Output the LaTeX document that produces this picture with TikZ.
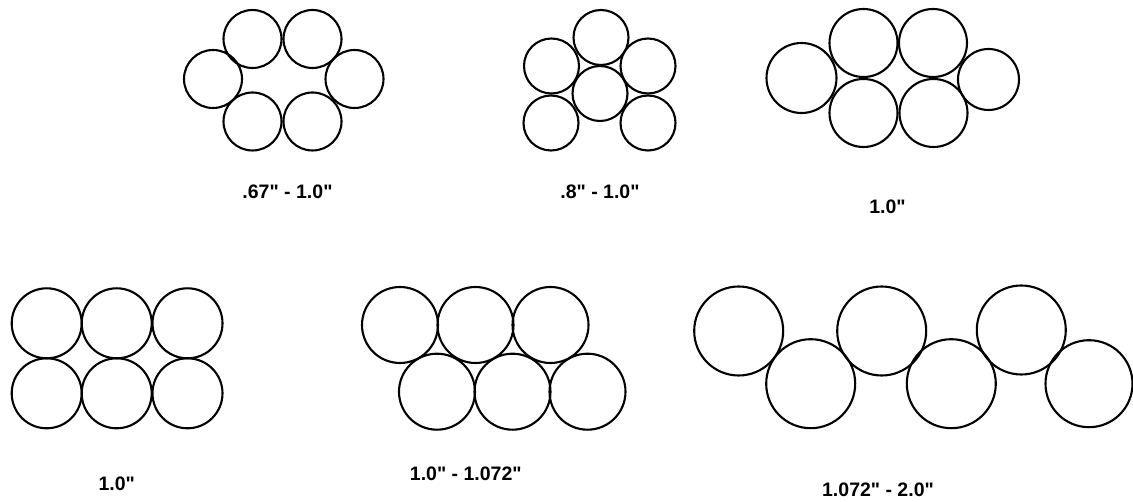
\documentclass[tikz,border=0pt]{standalone}
\usepackage{fontspec}
\newfontfamily\lblfont{Liberation Sans}
\begin{document}
\begin{tikzpicture}[x=1pt,y=-1pt,
  cond/.style={draw=black,line width=2.1pt,circle,inner sep=0pt,minimum size=#1},
  lbl/.style={font=\lblfont\fontsize{19.5}{20}\selectfont\bfseries,anchor=base,inner sep=0pt}]
\useasboundingbox[fill=white] (0,0) rectangle (1133,502);
% group 1: .67" - 1.0"
\node[cond=58pt] (a1) at (252.5,39) {};
\node[cond=58pt] (a2) at (312.5,39) {};
\node[cond=58pt] (a3) at (213,79) {};
\node[cond=58pt] (a4) at (354.5,79) {};
\node[cond=58pt] (a5) at (252.5,121.5) {};
\node[cond=58pt] (a6) at (312.5,121.5) {};
\node[lbl] (la) at (287.5,199) {.67" - 1.0"};
% group 2: .8" - 1.0"
\node[cond=55pt] (b1) at (601,37.5) {};
\node[cond=55pt] (b2) at (551.5,66) {};
\node[cond=55pt] (b3) at (648,66) {};
\node[cond=55pt] (b4) at (600,93.5) {};
\node[cond=55pt] (b5) at (551,123) {};
\node[cond=55pt] (b6) at (648,123) {};
\node[lbl] (lb) at (600,199) {.8" - 1.0"};
% group 3: 1.0"
\node[cond=70pt] (c1) at (801.5,78) {};
\node[cond=68pt] (c2) at (863.5,43) {};
\node[cond=68pt] (c3) at (933,43) {};
\node[cond=61pt] (c4) at (988.5,79.5) {};
\node[cond=68pt] (c5) at (863.5,113) {};
\node[cond=68pt] (c6) at (933.5,113) {};
\node[lbl] (lc) at (887.5,214) {1.0"};
% group 4: 1.0"
\node[cond=70pt] (d1) at (46.7,323.3) {};
\node[cond=70pt] (d2) at (116.7,323.3) {};
\node[cond=70pt] (d3) at (187.5,323.3) {};
\node[cond=70pt] (d4) at (46.7,393.3) {};
\node[cond=70pt] (d5) at (116.7,393.3) {};
\node[cond=70pt] (d6) at (187.5,393.3) {};
\node[lbl] (ld) at (116.7,490) {1.0"};
% group 5: 1.0" - 1.072"
\node[cond=76pt] (e1) at (400,325) {};
\node[cond=76pt] (e2) at (475.5,325) {};
\node[cond=76pt] (e3) at (550.5,325) {};
\node[cond=76pt] (e4) at (437,391.7) {};
\node[cond=76pt] (e5) at (512.5,391.7) {};
\node[cond=76pt] (e6) at (587.5,391.7) {};
\node[lbl] (le) at (465.8,480) {1.0" - 1.072"};
% group 6: 1.072" - 2.0"
\node[cond=89pt] (f1) at (738.7,331) {};
\node[cond=89pt] (f2) at (810.7,383.7) {};
\node[cond=89pt] (f3) at (881.7,331) {};
\node[cond=89pt] (f4) at (951.3,383.7) {};
\node[cond=89pt] (f5) at (1021.3,330) {};
\node[cond=87pt] (f6) at (1089,383.7) {};
\node[lbl] (lf) at (878,496.7) {1.072" - 2.0"};
\end{tikzpicture}
\end{document}
